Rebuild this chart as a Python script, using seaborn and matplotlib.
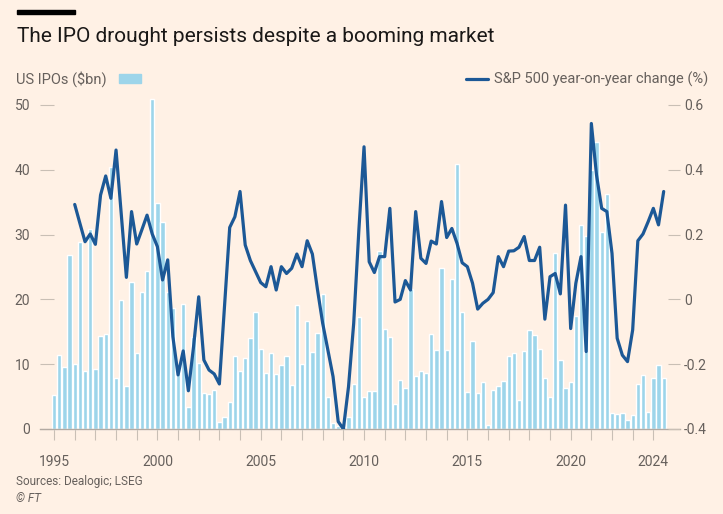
import numpy as np
import pandas as pd
import seaborn as sns
import matplotlib.pyplot as plt
from matplotlib.patches import Rectangle
from matplotlib.lines import Line2D

# quarterly US IPO proceeds, $bn, 1995 Q1 -> 2024 Q3
ipo_bn = [
    5.2, 11.4, 9.6, 26.9,
    10.1, 28.8, 9.0, 30.8,
    9.2, 14.4, 14.7, 40.5,
    7.8, 19.9, 6.7, 22.7,
    11.8, 21.1, 24.4, 50.9,
    34.8, 32.0, 21.2, 18.6,
    9.5, 19.3, 3.4, 14.2,
    10.2, 5.5, 5.4, 6.0,
    1.1, 1.9, 4.2, 11.3,
    9.0, 10.9, 14.1, 18.1,
    12.4, 8.6, 11.8, 8.5,
    9.8, 11.3, 6.8, 19.1,
    10.1, 16.6, 11.9, 14.8,
    20.8, 5.0, 1.0, 0.5,
    0.3, 1.9, 7.0, 17.3,
    5.0, 5.8, 5.8, 27.5,
    15.4, 14.2, 3.9, 7.5,
    6.4, 21.6, 8.2, 9.0,
    8.6, 14.6, 12.2, 24.9,
    12.2, 23.1, 40.9, 18.1,
    5.7, 13.6, 5.6, 7.3,
    0.6, 6.0, 6.7, 7.4,
    11.2, 11.8, 4.5, 12.0,
    15.3, 14.5, 12.4, 7.8,
    5.0, 27.1, 10.6, 6.4,
    7.3, 17.5, 31.5, 29.8,
    40.0, 44.3, 30.4, 36.2,
    2.5, 2.3, 2.4, 1.4,
    2.2, 6.9, 8.4, 2.6,
    7.8, 9.8, 7.8,
]

# S&P 500 year-on-year change, quarterly, 1996 Q1 -> 2024 Q3
sp500_yoy = [
    0.293, 0.235, 0.178, 0.202,
    0.170, 0.322, 0.381, 0.312,
    0.461, 0.265, 0.068, 0.271,
    0.171, 0.215, 0.260, 0.202,
    0.163, 0.060, 0.122, -0.115,
    -0.233, -0.159, -0.282, -0.146,
    0.008, -0.187, -0.218, -0.230,
    -0.261, -0.020, 0.222, 0.255,
    0.333, 0.168, 0.120, 0.086,
    0.052, 0.039, 0.101, 0.029,
    0.101, 0.080, 0.096, 0.140,
    0.101, 0.181, 0.140, 0.029,
    -0.074, -0.156, -0.238, -0.377,
    -0.400, -0.269, -0.074, 0.214,
    0.471, 0.116, 0.083, 0.132,
    0.132, 0.281, -0.008, 0.000,
    0.058, 0.029, 0.271, 0.127,
    0.111, 0.180, 0.171, 0.302,
    0.191, 0.219, 0.173, 0.113,
    0.101, 0.050, -0.030, -0.012,
    0.000, 0.021, 0.132, 0.101,
    0.149, 0.150, 0.161, 0.194,
    0.120, 0.120, 0.161, -0.061,
    0.070, 0.080, 0.017, 0.291,
    -0.090, 0.050, 0.132, -0.161,
    0.543, 0.384, 0.281, 0.271,
    0.142, -0.120, -0.172, -0.192,
    -0.094, 0.181, 0.202, 0.240,
    0.281, 0.230, 0.333,
]

ipo_start = 1995
sp500_start = 1996
tick_years = [1995, 2000, 2005, 2010, 2015, 2020, 2024]
left_ticks = [0, 10, 20, 30, 40, 50]
right_ticks = [-0.4, -0.2, 0, 0.2, 0.4, 0.6]

ipo = pd.DataFrame({"date": ipo_start + np.arange(len(ipo_bn)) / 4, "bn": ipo_bn})
sp = pd.DataFrame({"date": sp500_start + np.arange(len(sp500_yoy)) / 4, "yoy": sp500_yoy})

bg = "#fff1e5"
bar_c = "#9dd5ea"
line_c = "#1c5896"
grey = "#66605c"
tick_c = "#c9bfb5"

sns.set_theme(style="white")
plt.rcParams["font.family"] = ["Roboto", "DejaVu Sans"]

W, H = 723, 514
fig = plt.figure(figsize=(W / 100, H / 100), dpi=100, facecolor=bg)
ax = fig.add_axes([40 / W, 1 - 429 / H, 640 / W, 324 / H])
ax.set_facecolor(bg)

sns.barplot(data=ipo, x="date", y="bn", native_scale=True, color=bar_c,
            saturation=1, width=0.84, ax=ax)
for p in ax.patches:
    p.set_clip_on(False)

ax2 = ax.twinx()
sns.lineplot(data=sp, x="date", y="yoy", color=line_c, linewidth=2.3, ax=ax2)

ax.set_xlim(1994.32, 2025.29)
ax.set_ylim(0, 50)
ax2.set_ylim(-0.4, 0.6)

for a in (ax, ax2):
    for s in a.spines.values():
        s.set_visible(False)
    a.set_xlabel("")
    a.set_ylabel("")
ax.spines["bottom"].set_visible(True)
ax.spines["bottom"].set_color("#b3aaa2")
ax.spines["bottom"].set_linewidth(1)

ax.set_xticks(range(1995, 2025))
ax.set_xticklabels([str(y) if y in tick_years else "" for y in range(1995, 2025)])
ax.tick_params(axis="x", bottom=True, direction="out", length=8, width=0.8,
               color=tick_c, labelsize=10, labelcolor=grey, pad=11)

ax.set_yticks(left_ticks)
ax.set_yticklabels([str(v) for v in left_ticks])
ax.tick_params(axis="y", left=True, direction="in", length=10, width=0.8,
               color=tick_c, labelsize=10, labelcolor=grey, pad=7)

ax2.set_yticks(right_ticks)
ax2.set_yticklabels(["0" if v == 0 else f"{v:.1f}" for v in right_ticks])
ax2.tick_params(axis="y", right=True, direction="in", length=9, width=0.8,
                color=tick_c, labelsize=10, labelcolor=grey, pad=3)

# header
fig.add_artist(Rectangle((17 / W, 1 - 14 / H), 58 / W, 4 / H, color="black",
                         transform=fig.transFigure))
fig.text(17 / W, 1 - 37 / H, "The IPO drought persists despite a booming market",
         fontsize=15, color="#1a1817", va="center", ha="left")

# legend row
fig.text(16 / W, 1 - 79 / H, "US IPOs ($bn)", fontsize=10.5, color=grey, va="center")
fig.add_artist(Rectangle((119 / W, 1 - 83 / H), 22 / W, 9 / H, color=bar_c,
                         transform=fig.transFigure))
sp_label = fig.text(708 / W, 1 - 79 / H, "S&P 500 year-on-year change (%)", fontsize=10.5,
                    color=grey, va="center", ha="right")
fig.canvas.draw()
x0 = sp_label.get_window_extent().x0
fig.add_artist(Line2D([(x0 - 28) / W, (x0 - 6) / W], [1 - 79 / H, 1 - 79 / H], color=line_c,
                      linewidth=2.3, transform=fig.transFigure))

# footer
fig.text(16 / W, 1 - 481 / H, "Sources: Dealogic; LSEG", fontsize=8.5, color=grey, va="center")
fig.text(16 / W, 1 - 499 / H, "© FT", fontsize=8.5, color=grey, va="center", style="italic")

fig.savefig("out.png", dpi=100, facecolor=bg)
